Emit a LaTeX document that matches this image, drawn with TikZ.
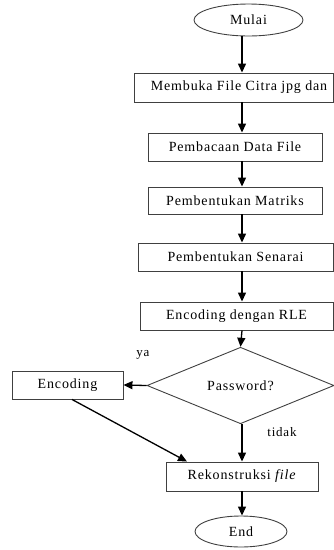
\documentclass[tikz,border=0pt]{standalone}
\usepackage{fontspec}
\setmainfont{Liberation Serif}[LetterSpace=6]
\usetikzlibrary{shapes.geometric,arrows.meta}
\begin{document}
\begin{tikzpicture}[x=1pt,y=-1pt,
  every node/.style={font=\fontsize{14}{16}\selectfont, inner sep=0pt},
  procbox/.style={draw=black!75, line width=0.9pt, rectangle},
  termin/.style={draw=black!75, line width=0.9pt, ellipse},
  decis/.style={draw=black!75, line width=0.9pt, diamond},
  arr/.style={line width=1.3pt, -{Triangle[length=9pt,width=8pt]}},
  lbl/.style={font=\fontsize{13}{15}\selectfont}
]
\useasboundingbox (0,0) rectangle (334,550);
\node[termin, minimum width=109pt, minimum height=32pt] (mulai) at (248.5,20) {Mulai};
\node[procbox, minimum width=199pt, minimum height=29pt] (b1) at (234,87.5) {\hspace*{10pt}Membuka File Citra jpg dan};
\node[procbox, minimum width=174pt, minimum height=28pt] (b2) at (235,147) {Pembacaan Data File};
\node[procbox, minimum width=174pt, minimum height=27pt] (b3) at (235,200.5) {Pembentukan Matriks};
\node[procbox, minimum width=195pt, minimum height=28pt] (b4) at (235.5,257) {Pembentukan Senarai};
\node[procbox, minimum width=193pt, minimum height=28pt] (b5) at (236.5,316) {Encoding dengan RLE};
\node[decis, minimum width=187pt, minimum height=55pt] (d) at (240.5,385.5) {Password?};
\node[procbox, minimum width=111pt, minimum height=28pt] (enc) at (67.5,385) {Encoding};
\node[procbox, minimum width=152pt, minimum height=29pt] (rek) at (242,476.5) {Rekonstruksi \textit{file}};
\node[termin, minimum width=92pt, minimum height=31pt] (end) at (241,531.5) {End};
\node[lbl] (ya) at (143,355) {ya};
\node[lbl] (tidak) at (282,432) {tidak};

\coordinate (cx) at (242,0);
\draw[arr] (mulai.south -| cx) -- (b1.north -| cx);
\draw[arr] (b1.south -| cx) -- (b2.north -| cx);
\draw[arr] (b2.south -| cx) -- (b3.north -| cx);
\draw[arr] (b3.south -| cx) -- (b4.north -| cx);
\draw[arr] (b4.south -| cx) -- (b5.north -| cx);
\draw[arr] (b5.south -| cx) -- (d.north);
\draw[arr] (d.west) -- (enc.east);
\draw[arr] (d.south -| cx) -- (rek.north);
\draw[arr] ([xshift=4.5pt]enc.south) -- ([xshift=-55pt]rek.north);
\draw[arr] (rek.south -| cx) -- (end.north -| cx);
\end{tikzpicture}
\end{document}
